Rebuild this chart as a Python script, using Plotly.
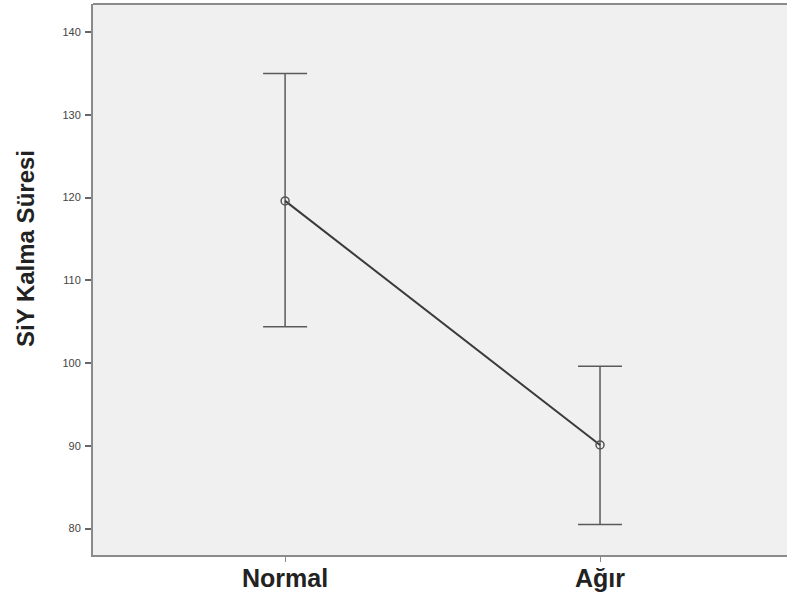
import plotly.graph_objects as go

categories = ["Normal", "Ağır"]
means = [119.6, 90.1]
upper = [135.0, 99.6]
lower = [104.4, 80.5]
y_ticks = [80, 90, 100, 110, 120, 130, 140]
y_title = "SiY Kalma Süresi"

x_pos = list(range(len(categories)))
err_plus = [u - m for u, m in zip(upper, means)]
err_minus = [m - l for m, l in zip(means, lower)]

fig = go.Figure()
fig.add_trace(go.Scatter(
    x=x_pos, y=means, mode="lines+markers",
    line=dict(color="#3a3a3a", width=2),
    marker=dict(symbol="circle-open", size=8, color="#555555", line=dict(width=1.5)),
    error_y=dict(type="data", symmetric=False, array=err_plus, arrayminus=err_minus,
                 color="#5a5a5a", thickness=1.5, width=22),
    showlegend=False,
))

W, H = 800, 596
L, T, B = 93, 4, 41
fig.update_layout(
    width=W, height=H,
    margin=dict(l=L, r=0, t=T, b=B),
    paper_bgcolor="white",
    plot_bgcolor="#f0f0f0",
    font=dict(family="Arial, Liberation Sans, sans-serif"),
    shapes=[dict(type="line", xref="paper", yref="paper", x0=0, x1=1.01, y0=1, y1=1,
                 line=dict(color="#8a8a8a", width=2))],
    annotations=[dict(
        text=f"<b>{y_title}</b>", textangle=-90, showarrow=False,
        xref="paper", yref="paper",
        x=(25 - L) / (W - L), y=1 - (249 - T) / (H - T - B),
        xanchor="center", yanchor="middle",
        font=dict(size=24, color="#222222", family="Liberation Sans"),
    )],
)
fig.update_xaxes(
    range=[-0.61, 1.635], tickvals=x_pos, ticktext=[f"<b>{c}</b>" for c in categories],
    showgrid=False, zeroline=False,
    showline=True, linecolor="#8a8a8a", linewidth=2,
    ticks="outside", ticklen=5, tickcolor="#8a8a8a", tickwidth=1,
    tickfont=dict(size=25, color="#222222", family="Liberation Sans"),
    ticklabelstandoff=-5,
)
fig.update_yaxes(
    range=[76.8, 143.4], tickvals=y_ticks,
    showgrid=False, zeroline=False,
    showline=True, linecolor="#8a8a8a", linewidth=2,
    ticks="outside", ticklen=6, tickcolor="#666666", tickwidth=1.5,
    tickfont=dict(size=11, color="#444444"),
    ticklabelstandoff=2,
)
fig.write_html(
    "out.html", config={"displayModeBar": False},
    post_script=("document.body.style.margin='0';"
                 "document.body.style.overflow='hidden';"
                 "document.documentElement.style.overflow='hidden';"),
)
